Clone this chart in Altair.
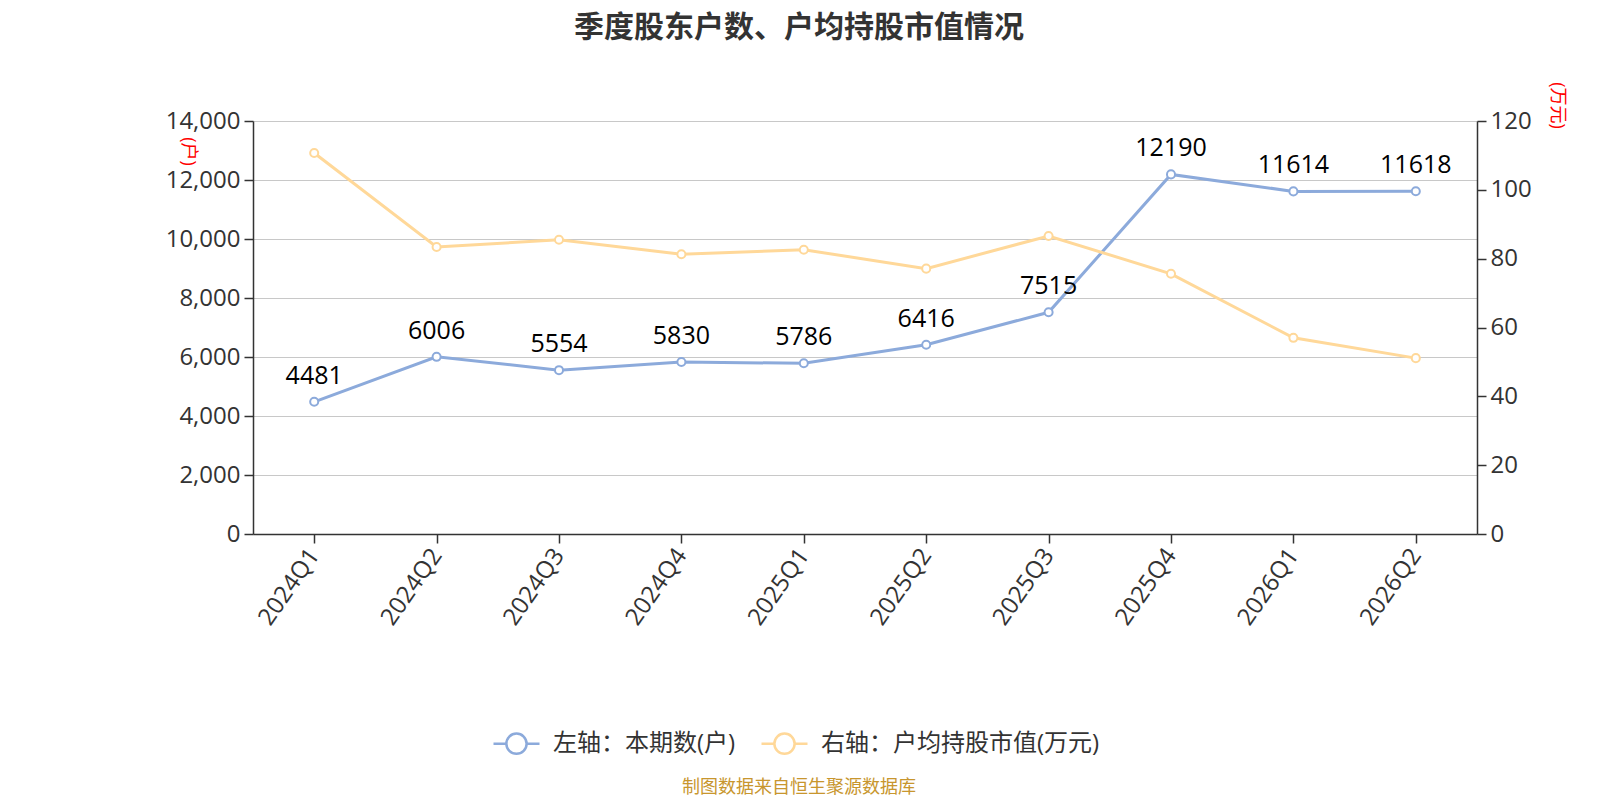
import altair as alt
import pandas as pd

quarters = ["2024Q1", "2024Q2", "2024Q3", "2024Q4", "2025Q1",
            "2025Q2", "2025Q3", "2025Q4", "2026Q1", "2026Q2"]
holders = [4481, 6006, 5554, 5830, 5786, 6416, 7515, 12190, 11614, 11618]
avg_value = [110.7, 83.4, 85.5, 81.3, 82.6, 77.1, 86.6, 75.6, 57.0, 51.1]

S1 = "左轴：本期数(户)"
S2 = "右轴：户均持股市值(万元)"
BLUE = "#8caadb"
ORANGE = "#ffd899"
FONT = "Open Sans, Noto Sans CJK SC"

df = pd.DataFrame({"q": quarters, "holders": holders, "avg": avg_value,
                   "s1": S1, "s2": S2})

color_scale = alt.Scale(domain=[S1, S2], range=[BLUE, ORANGE])
legend_path = ("M-1,0L-0.44,0M0.44,0L1,0M0.44,0A0.44,0.44,0,1,1,-0.44,0"
               "A0.44,0.44,0,1,1,0.44,0Z")

x_enc = alt.X("q:N", sort=quarters, title=None,
              scale=alt.Scale(paddingInner=0, paddingOuter=0),
              axis=alt.Axis(labelAngle=305, labelFontSize=24, labelColor="#333333",
                            labelFont=FONT, bandPosition=0, tickSize=9,
                            domainColor="#333333", tickColor="#333333",
                            domainWidth=1.5, tickWidth=1.5, labelPadding=8,
                            grid=False))

base = alt.Chart(df)

y_left = alt.Y("holders:Q", title="(户)",
               scale=alt.Scale(domain=[0, 14000]),
               axis=alt.Axis(values=list(range(0, 14001, 2000)), format=",.0f",
                             labelFontSize=24, labelColor="#333333", labelFont=FONT,
                             titleColor="red", titleFontSize=18, titleFont=FONT,
                             titleFontWeight="normal", titleAngle=90,
                             titleX=-66, titleY=30, titleAlign="center",
                             titleBaseline="middle",
                             tickSize=9, domainColor="#333333", tickColor="#333333",
                             domainWidth=1.5, tickWidth=1.5, labelPadding=4,
                             grid=True, gridColor="#c8c8c8", gridWidth=1.2))

line1 = base.mark_line(strokeWidth=3).encode(
    x=x_enc, y=y_left,
    color=alt.Color("s1:N", scale=color_scale, title=None,
                    legend=alt.Legend(orient="none", direction="horizontal",
                                      legendX=239, legendY=598,
                                      symbolType=legend_path, symbolSize=2116,
                                      symbolStrokeWidth=2.5, symbolFillColor="white",
                                      labelFontSize=24, labelColor="#333333",
                                      labelFont=FONT, columnPadding=20,
                                      labelOffset=12, labelLimit=600,
                                      symbolOpacity=1)))
pts1 = base.mark_point(filled=True, fill="white", stroke=BLUE, strokeWidth=2,
                       size=65, opacity=1).encode(x=x_enc, y=y_left)
txt1 = base.mark_text(fontSize=25, font=FONT, color="#000000",
                      baseline="alphabetic", dy=-18).encode(
    x=x_enc, y=y_left, text="holders:Q")

y_right = alt.Y("avg:Q", title="(万元)",
                scale=alt.Scale(domain=[0, 120]),
                axis=alt.Axis(orient="right", values=list(range(0, 121, 20)),
                              labelFontSize=24, labelColor="#333333", labelFont=FONT,
                              titleColor="red", titleFontSize=18, titleFont=FONT,
                              titleFontWeight="normal", titleAngle=90,
                              titleX=79, titleY=-16, titleAlign="center",
                              titleBaseline="middle",
                              tickSize=9, domainColor="#333333", tickColor="#333333",
                              domainWidth=1.5, tickWidth=1.5, labelPadding=4,
                              grid=False))

line2 = base.mark_line(strokeWidth=3).encode(
    x=x_enc, y=y_right,
    color=alt.Color("s2:N", scale=color_scale, title=None))
pts2 = base.mark_point(filled=True, fill="white", stroke=ORANGE, strokeWidth=2,
                       size=65, opacity=1).encode(x=x_enc, y=y_right)

left = alt.layer(line1, pts1, txt1)
right = alt.layer(line2, pts2)

footer = alt.Chart(pd.DataFrame({"t": ["制图数据来自恒生聚源数据库"]})).mark_text(
    fontSize=18, font="Noto Sans CJK SC", color="#c8962e", baseline="middle"
).encode(x=alt.value(546), y=alt.value(667), text="t:N")

chart = alt.layer(left, right, footer).resolve_scale(y="independent").properties(
    width=1224, height=413,
    autosize=alt.AutoSizeParams(type="none"),
    padding={"left": 245, "top": 113, "right": 100, "bottom": 270},
    title=alt.TitleParams("季度股东户数、户均持股市值情况", fontSize=30,
                          font="Noto Sans CJK SC", fontWeight="bold",
                          color="#333333", anchor="middle", frame="group",
                          dx=-66, offset=39),
).configure_view(stroke=None)

chart.save("out.html", embed_options={"renderer": "svg", "actions": False})
